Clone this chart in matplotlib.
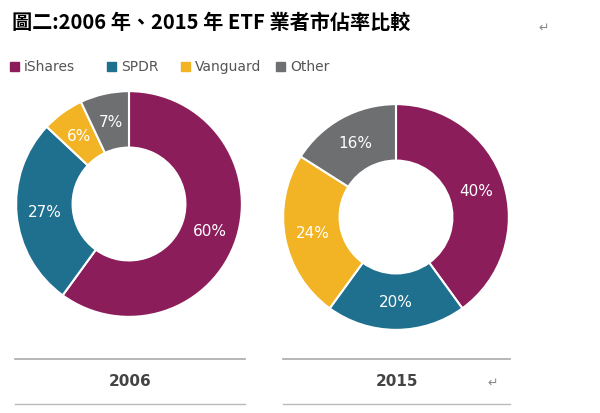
import matplotlib
matplotlib.use("Agg")
import matplotlib.pyplot as plt
from matplotlib.patches import Rectangle
import numpy as np

plt.rcParams['font.family'] = ['Noto Sans CJK TC', 'DejaVu Sans']

categories = ["iShares", "SPDR", "Vanguard", "Other"]
colors = ["#8C1D5B", "#1F6F8F", "#F2B324", "#6E6F71"]
years = ["2006", "2015"]
share_2006 = [60, 27, 6, 7]
share_2015 = [40, 20, 24, 16]

W, H = 600, 414
fig = plt.figure(figsize=(6, 4.14), dpi=100)

def px_axes(x0, y0, w, h):
    return fig.add_axes([x0 / W, 1 - (y0 + h) / H, w / W, h / H])

def donut(ax, vals):
    ax.pie(vals, colors=colors, startangle=90, counterclock=False,
           wedgeprops=dict(width=0.5, edgecolor='white', linewidth=1.5))
    tot = sum(vals)
    cum = 0
    for v in vals:
        mid = 90 - (cum + v / 2) / tot * 360
        cum += v
        r = 0.75
        ax.text(r * np.cos(np.radians(mid)), r * np.sin(np.radians(mid)),
                f"{v}%", color='white', ha='center', va='center', fontsize=11,
                family=['DejaVu Sans'])
    ax.set_aspect('equal')
    ax.set_xlim(-1.01, 1.01)
    ax.set_ylim(-1.01, 1.01)
    ax.axis('off')

ax1 = px_axes(15, 91, 228, 228)
donut(ax1, share_2006)
ax2 = px_axes(282, 104, 228, 228)
donut(ax2, share_2015)

fig.text(12 / W, 1 - 22 / H, "圖二:2006 年、2015 年 ETF 業者市佔率比較", fontsize=14.5,
         fontweight='bold', va='center', ha='left', color='black')
fig.text(538 / W, 1 - 28 / H, "↵", fontsize=9, color='#888888', va='center', family=['DejaVu Sans'])
fig.text(487 / W, 1 - 383 / H, "↵", fontsize=9, color='#888888', va='center', family=['DejaVu Sans'])

leg_x = [10, 107, 181, 276]
for x, c, name in zip(leg_x, colors, categories):
    fig.patches.append(Rectangle((x / W, 1 - 72 / H), 9 / W, 9 / H, color=c,
                                 transform=fig.transFigure, figure=fig))
    fig.text((x + 14) / W, 1 - 67 / H, name, fontsize=10, color='#555555',
             va='center', ha='left', family=['DejaVu Sans'])

for (x0, x1), yr in zip([(15, 245), (283, 510)], years):
    fig.add_artist(plt.Line2D([x0 / W, x1 / W], [1 - 360 / H] * 2, color='#AAAAAA', lw=1.2))
    fig.add_artist(plt.Line2D([x0 / W, x1 / W], [1 - 405 / H] * 2, color='#BBBBBB', lw=1.0))
    fig.text((x0 + x1) / 2 / W, 1 - 382 / H, yr, fontsize=11, fontweight='bold',
             color='#444444', ha='center', va='center', family=['DejaVu Sans'])

fig.savefig("out.png", dpi=100)
